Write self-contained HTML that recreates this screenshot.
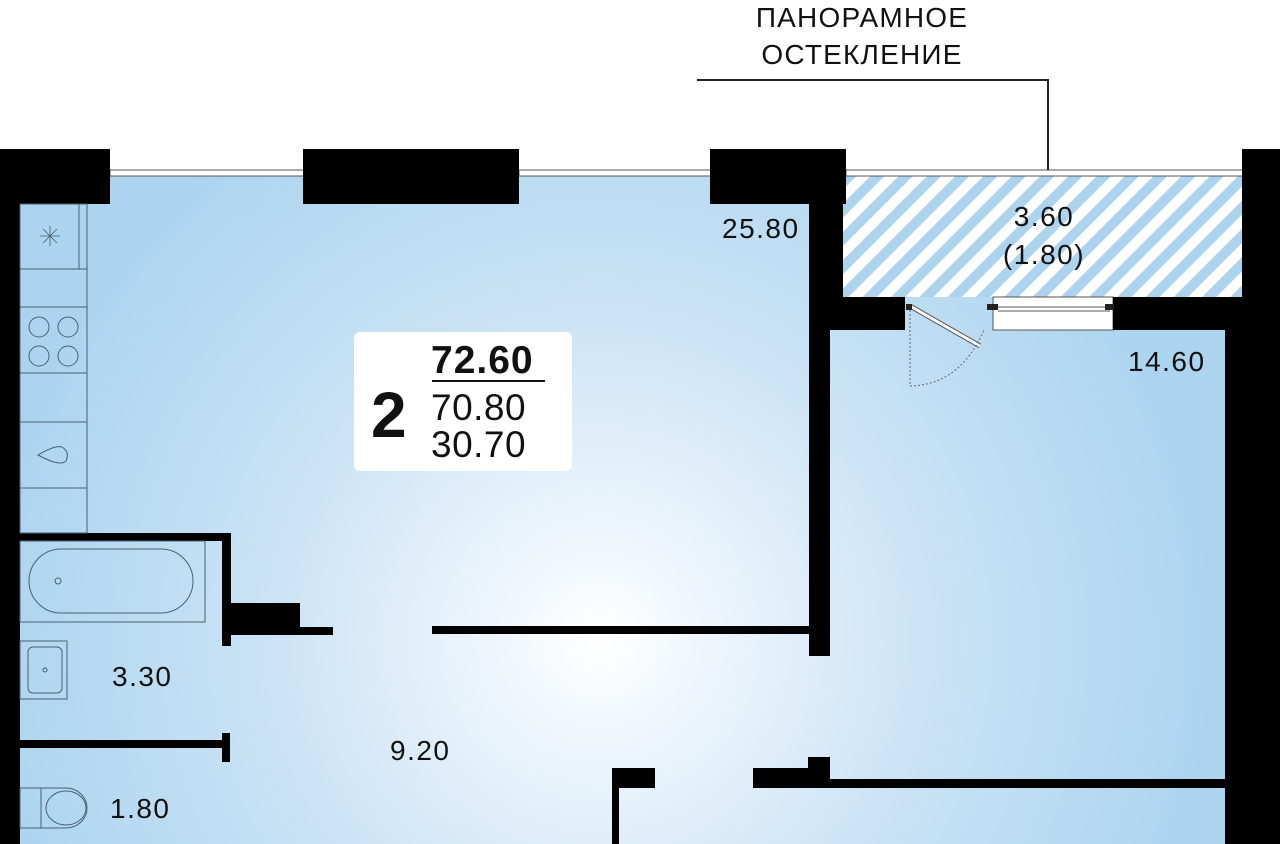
<!DOCTYPE html>
<html><head><meta charset="utf-8"><style>
html,body{margin:0;padding:0;background:#fff;width:1280px;height:844px;overflow:hidden}
svg{display:block}
text{font-family:"Liberation Sans",sans-serif;fill:#111}
</style></head><body>
<svg width="1280" height="844" viewBox="0 0 1280 844" xmlns="http://www.w3.org/2000/svg">
<defs>
<radialGradient id="g" cx="600" cy="640" r="620" gradientUnits="userSpaceOnUse">
<stop offset="0" stop-color="#ffffff"/><stop offset="0.55" stop-color="#c9e2f5"/><stop offset="1" stop-color="#acd4ef"/>
</radialGradient>
<pattern id="h" width="20" height="20" patternUnits="userSpaceOnUse" patternTransform="rotate(45)">
<rect width="20" height="20" fill="#fff"/><rect width="10" height="20" fill="#acd4ef"/>
</pattern>
</defs>
<rect x="20" y="176" width="1210" height="668" fill="url(#g)"/>
<rect x="843" y="176" width="402" height="121" fill="url(#h)"/>
<g stroke="#555" stroke-width="1" fill="#fff">
<rect x="110" y="170" width="195" height="6"/>
<rect x="519" y="170" width="193" height="6"/>
<rect x="846" y="170" width="398" height="6"/>
<rect x="993" y="297" width="120" height="33"/>
<line x1="998" y1="307" x2="1110" y2="307"/><line x1="998" y1="311" x2="1110" y2="311"/>
</g>
<polyline points="697,80 1048,80 1048,170" fill="none" stroke="#222" stroke-width="2"/>
<text x="862" y="27" font-size="28" letter-spacing="1.2" text-anchor="middle">ПАНОРАМНОЕ</text>
<text x="862" y="64" font-size="28" letter-spacing="1.2" text-anchor="middle">ОСТЕКЛЕНИЕ</text>
<g fill="#000">
<rect x="0" y="149" width="110" height="55"/>
<rect x="0" y="149" width="20" height="695"/>
<rect x="303" y="149" width="216" height="55"/>
<rect x="710" y="149" width="136" height="55"/>
<rect x="809" y="149" width="34" height="181"/>
<rect x="809" y="297" width="96" height="33"/>
<rect x="809" y="149" width="21" height="507"/>
<rect x="1113" y="297" width="132" height="33"/>
<rect x="1242" y="149" width="38" height="695"/>
<rect x="1225" y="297" width="55" height="547"/>
<rect x="20" y="533" width="210" height="8"/>
<rect x="222" y="533" width="9" height="113"/>
<rect x="231" y="603" width="69" height="32"/>
<rect x="231" y="627" width="102" height="8"/>
<rect x="432" y="626" width="377" height="8"/>
<rect x="20" y="740" width="205" height="8"/>
<rect x="222" y="733" width="8" height="29"/>
<rect x="612" y="768" width="43" height="20"/>
<rect x="612" y="768" width="7" height="76"/>
<rect x="753" y="768" width="77" height="20"/>
<rect x="808" y="757" width="22" height="31"/>
<rect x="808" y="779" width="418" height="9"/>
</g>
<g fill="none" stroke="#4a6070" stroke-width="1">
<rect x="20" y="204" width="67" height="329"/>
<line x1="79" y1="204" x2="79" y2="269"/>
<line x1="20" y1="269" x2="87" y2="269"/>
<line x1="20" y1="307" x2="87" y2="307"/>
<line x1="20" y1="373" x2="87" y2="373"/>
<line x1="20" y1="422" x2="87" y2="422"/>
<line x1="20" y1="488" x2="87" y2="488"/>
<circle cx="39" cy="327" r="10"/><circle cx="68" cy="327" r="10"/>
<circle cx="39" cy="356" r="10"/><circle cx="68" cy="356" r="10"/>
<path d="M38,455 Q55,445 62,447 Q70,452 66,461 Q60,467 38,455 Z"/>
<path d="M40,236 h20 M50,226 v20 M43,229 l14,14 M57,229 l-14,14" stroke-width="0.8"/>
<rect x="20" y="541" width="185" height="81"/>
<rect x="29" y="549" width="164" height="64" rx="32"/>
<circle cx="58" cy="581" r="3"/>
<rect x="20" y="641" width="47" height="58"/>
<rect x="28" y="647" width="34" height="46" rx="5"/>
<circle cx="45" cy="670" r="2"/>
<rect x="20" y="788" width="21" height="40"/>
<path d="M41,788 h25 a21,20 0 0 1 0,40 h-25"/>
<ellipse cx="66" cy="808" rx="20" ry="17"/>
</g>
<g stroke="#667" fill="none">
<path d="M910,306 L980,346" stroke-width="5" stroke="#555"/>
<path d="M910,306 L980,346" stroke-width="3" stroke="#fff"/>
<path d="M910,310 V386 Q960,385 984,330" stroke-dasharray="2,2" stroke-width="1"/>
</g>
<rect x="906" y="304" width="6" height="6" fill="#222"/>
<rect x="987" y="304" width="11" height="6" fill="#222"/>
<rect x="1105" y="304" width="9" height="6" fill="#222"/>
<rect x="354" y="332" width="218" height="139" rx="6" fill="#fff"/>
<text x="371" y="437" font-size="64" font-weight="bold">2</text>
<text x="431" y="373" font-size="39" font-weight="bold" letter-spacing="1">72.60</text>
<rect x="432" y="380" width="113" height="2" fill="#111"/>
<text x="431" y="420" font-size="37" letter-spacing="0.5">70.80</text>
<text x="431" y="457" font-size="37" letter-spacing="0.5">30.70</text>
<g font-size="28" letter-spacing="1.5">
<text x="722" y="238">25.80</text>
<text x="1044" y="226" text-anchor="middle">3.60</text>
<text x="1044" y="264" text-anchor="middle">(1.80)</text>
<text x="1128" y="371">14.60</text>
<text x="112" y="686">3.30</text>
<text x="390" y="760">9.20</text>
<text x="110" y="818">1.80</text>
</g>
</svg>
</body></html>
